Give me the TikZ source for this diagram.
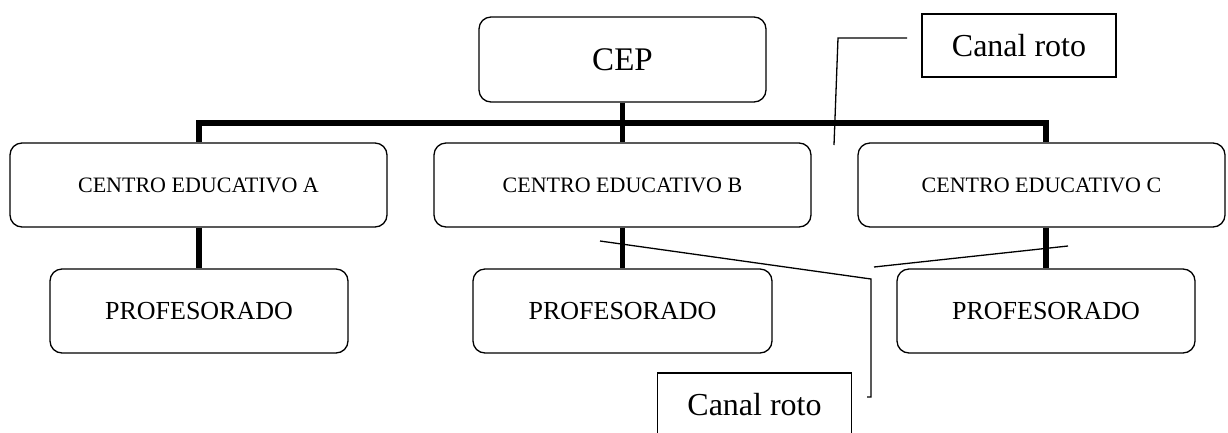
\documentclass[tikz,border=0pt]{standalone}
\usepackage{fontspec}
\setmainfont{Liberation Serif}

\begin{document}
\begin{tikzpicture}[x=1pt, y=-1pt,
		caja/.style = {draw, line width=1.3pt, rounded corners=12pt, inner sep=0pt, align=center},
		nota/.style = {draw, line width=1.3pt, inner sep=0pt, minimum width=194pt, minimum height=63pt, font=\fontsize{32}{36}\selectfont},
		rama/.style = {line width=5.5pt},
		aviso/.style = {line width=1.3pt},
	]
		\useasboundingbox (0,0) rectangle (1228,432);
		% 上位・中位・下位の箱
		\node [caja, minimum width=287pt, minimum height=85pt, font=\fontsize{33}{38}\selectfont] (cep) at (622.5,59.5) {CEP};
		\node [caja, minimum width=377pt, minimum height=84pt, font=\fontsize{22}{26}\selectfont] (centroA) at (198.5,185) {CENTRO EDUCATIVO A};
		\node [caja, minimum width=377pt, minimum height=84pt, font=\fontsize{22}{26}\selectfont] (centroB) at (622.5,185) {CENTRO EDUCATIVO B};
		\node [caja, minimum width=367pt, minimum height=84pt, font=\fontsize{22}{26}\selectfont] (centroC) at (1041.5,185) {CENTRO EDUCATIVO C};
		\node [caja, minimum width=298pt, minimum height=84pt, font=\fontsize{26}{30}\selectfont] (profA) at (199,311) {PROFESORADO};
		\node [caja, minimum width=299pt, minimum height=84pt, font=\fontsize{26}{30}\selectfont] (profB) at (622.5,311) {PROFESORADO};
		\node [caja, minimum width=298pt, minimum height=84pt, font=\fontsize{26}{30}\selectfont] (profC) at (1046,311) {PROFESORADO};
		% 太い接続線
		\coordinate (barra) at (0,123);
		\draw [rama] (profA.north |- centroA.north)
		-- (profA.north |- barra)
		-- (profC.north |- barra)
		-- (profC.north |- centroC.north)
		;
		\draw [rama] (cep.south) -- (centroB.north);
		\draw [rama] (profA.north |- centroA.south) -- (profA.north);
		\draw [rama] (profB.north |- centroB.south) -- (profB.north);
		\draw [rama] (profC.north |- centroC.south) -- (profC.north);
		% 吹き出し(上)
		\node [nota] (canal1) at (1019,45.5) {Canal roto};
		\coordinate (c1a) at (907,38);
		\coordinate (c1b) at (838,38);
		\coordinate (c1c) at (834,145);
		\draw [aviso] (c1a) -- (c1b) -- (c1c);
		% 吹き出し(下)
		\node [nota] (canal2) at (754.5,404.5) {Canal roto};
		\coordinate (c2a) at (867,397);
		\coordinate (c2b) at (871,397);
		\coordinate (c2c) at (871,279);
		\coordinate (c2d) at (600,241);
		\coordinate (c2e) at (874,267);
		\coordinate (c2f) at (1068,246);
		\draw [aviso] (c2a) -- (c2b) -- (c2c) -- (c2d);
		\draw [aviso] (c2e) -- (c2f);
	\end{tikzpicture}
\end{document}
